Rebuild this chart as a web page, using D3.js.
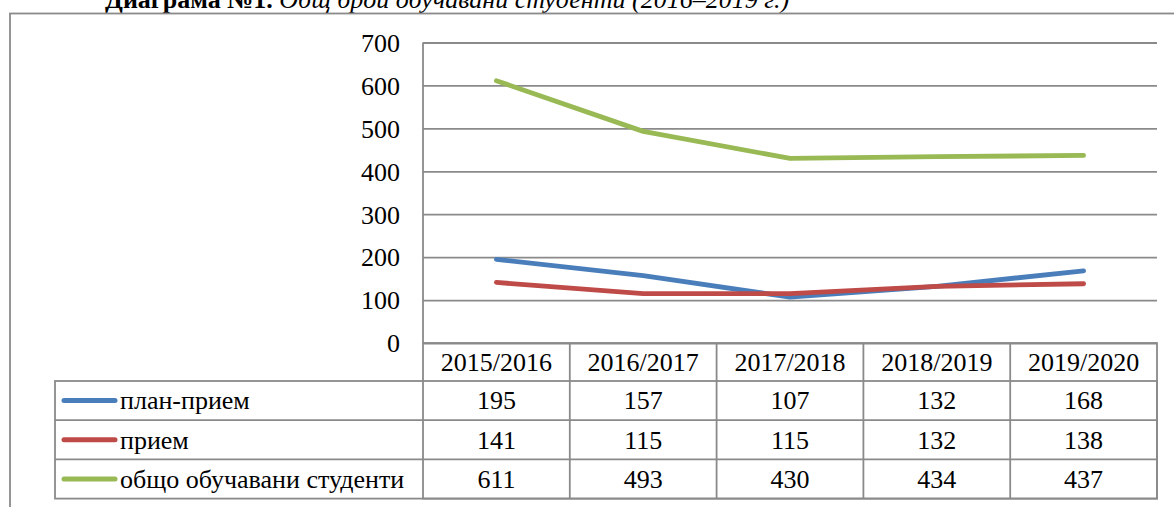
<!DOCTYPE html>
<html>
<head>
<meta charset="utf-8">
<script src="https://cdn.jsdelivr.net/npm/d3@7/dist/d3.min.js"></script>
<style>
  html, body { margin: 0; padding: 0; background: #fff; }
  svg { display: block; }
  svg text { font-family: "Liberation Serif", "Times New Roman", serif !important; fill: #000; }
</style>
</head>
<body>
<svg id="chart" width="1174" height="507" font-family="Liberation Serif"></svg>
<script>
const categories = ["2015/2016", "2016/2017", "2017/2018", "2018/2019", "2019/2020"];
const seriesNames = ["план-прием", "прием", "общо обучавани студенти"];
const planPriem = [195, 157, 107, 132, 168];
const priem = [141, 115, 115, 132, 138];
const obshto = [611, 493, 430, 434, 437];
const yTicks = [0, 100, 200, 300, 400, 500, 600, 700];
const seriesColors = ["#4A7EBB", "#BE4B48", "#98B954"];
const titleBold = "Диаграма №1.";
const titleItalic = " Общ брой обучавани студенти (2016–2019 г.)";

(function () {
const series = [planPriem, priem, obshto].map((v, i) => ({ name: seriesNames[i], values: v, color: seriesColors[i] }));

const svg = d3.select("#chart");
const grid = "#8a8a8a";
const fs = 26;
const serif = '"Liberation Serif", "Times New Roman", serif';

const pLeft = 423, pRight = 1157, pTop = 42.5, pBottom = 343;
const tableLeft = 55;
const rowH = 39.2;
const headerBottom = 381;

const x = d3.scaleBand().domain(categories).range([pLeft, pRight]).padding(0);
const y = d3.scaleLinear().domain([0, 700]).range([pBottom, pTop]);

// title (cut at top, as in the source)
const t = svg.append("text").attr("x", 105).attr("y", 7.5).attr("font-size", fs).style("font-family", serif);
t.append("tspan").attr("font-weight", "bold").text(titleBold);
t.append("tspan").attr("font-style", "italic").text(titleItalic);

// outer frame
svg.append("rect").attr("x", 10).attr("y", 13.5).attr("width", 1200).attr("height", 600)
  .attr("fill", "none").attr("stroke", grid).attr("stroke-width", 1.8);

// y axis with gridlines
const yAxis = d3.axisLeft(y).tickValues(yTicks).tickSize(-(pRight - pLeft)).tickPadding(23).tickFormat(d3.format("d"));
const gy = svg.append("g").attr("transform", `translate(${pLeft},0)`).call(yAxis);
gy.attr("font-family", null);
gy.select(".domain").remove();
gy.selectAll(".tick line").attr("stroke", grid).attr("stroke-width", 1.8);
gy.selectAll(".tick text").attr("font-size", fs).style("font-family", serif).attr("fill", "#000").attr("dy", "0.34em");

// vertical axis line (plot left)
svg.append("line").attr("x1", pLeft).attr("x2", pLeft).attr("y1", pTop).attr("y2", pBottom)
  .attr("stroke", grid).attr("stroke-width", 1.8);

// data table
const tableBottom = headerBottom + rowH * series.length;
const tg = svg.append("g");
tg.append("rect").attr("x", pLeft).attr("y", pBottom).attr("width", pRight - pLeft).attr("height", tableBottom - pBottom)
  .attr("fill", "none").attr("stroke", grid).attr("stroke-width", 1.8);
tg.append("rect").attr("x", tableLeft).attr("y", headerBottom).attr("width", pRight - tableLeft).attr("height", tableBottom - headerBottom)
  .attr("fill", "none").attr("stroke", grid).attr("stroke-width", 1.8);
series.forEach((s, i) => {
  if (i > 0) tg.append("line").attr("x1", tableLeft).attr("x2", pRight)
    .attr("y1", headerBottom + rowH * i).attr("y2", headerBottom + rowH * i)
    .attr("stroke", grid).attr("stroke-width", 1.8);
});
categories.forEach((c, i) => {
  if (i > 0) tg.append("line").attr("x1", x(c)).attr("x2", x(c)).attr("y1", pBottom).attr("y2", tableBottom)
    .attr("stroke", grid).attr("stroke-width", 1.8);
});
tg.selectAll("text.cat").data(categories).join("text").attr("class", "cat")
  .attr("x", d => x(d) + x.bandwidth() / 2).attr("y", (pBottom + headerBottom) / 2)
  .attr("dy", "0.34em").attr("text-anchor", "middle").attr("font-size", fs).style("font-family", serif).text(d => d);
series.forEach((s, i) => {
  const cy = headerBottom + rowH * i + rowH / 2;
  tg.append("line").attr("x1", 64).attr("x2", 115).attr("y1", cy).attr("y2", cy)
    .attr("stroke", s.color).attr("stroke-width", 5).attr("stroke-linecap", "round");
  tg.append("text").attr("x", 120).attr("y", cy).attr("dy", "0.34em").attr("font-size", fs).style("font-family", serif).text(s.name);
  tg.selectAll(null).data(s.values).join("text")
    .attr("x", (d, j) => x(categories[j]) + x.bandwidth() / 2).attr("y", cy)
    .attr("dy", "0.34em").attr("text-anchor", "middle").attr("font-size", fs).style("font-family", serif).text(d => d);
});

// lines
const line = d3.line().x((d, j) => x(categories[j]) + x.bandwidth() / 2).y(d => y(d));
svg.append("g").selectAll("path").data(series).join("path")
  .attr("d", d => line(d.values)).attr("fill", "none").attr("stroke", d => d.color)
  .attr("stroke-width", 4.8).attr("stroke-linecap", "round").attr("stroke-linejoin", "round");
})();
</script>
</body>
</html>
